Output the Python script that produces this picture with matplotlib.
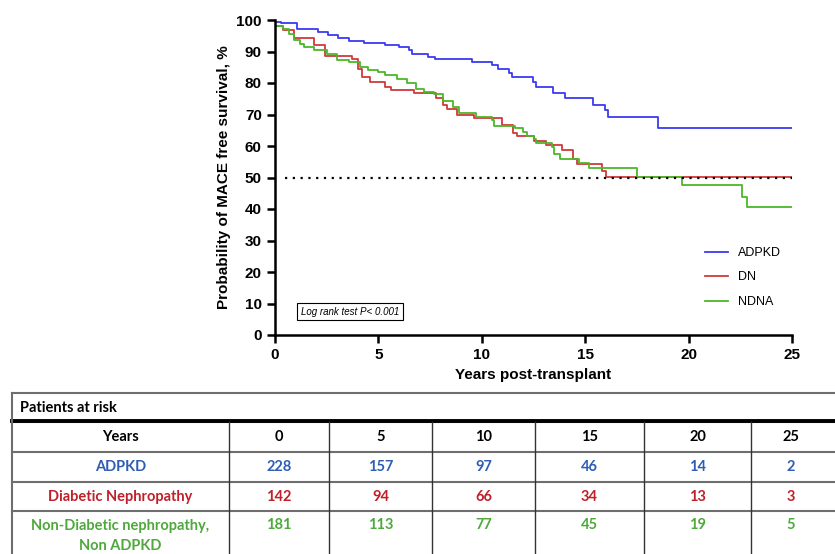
import matplotlib
matplotlib.use("Agg")
import matplotlib.pyplot as plt
from matplotlib.lines import Line2D

plt.rcParams['font.family'] = ['Liberation Sans', 'DejaVu Sans']

adpkd_t = [0, 0.3, 1.08, 2.08, 2.57, 3.07, 3.57, 4.32, 5.3, 5.98, 6.48, 6.64, 7.39, 7.72, 9.55, 10.47, 10.8, 11.3, 11.46, 12.46, 12.6, 13.45, 14.04, 15.37, 15.95, 16.1, 18.5, 25]
adpkd_s = [99.3, 98.9, 97.3, 96.3, 95.2, 94.2, 93.4, 92.6, 92.0, 91.3, 90.5, 89.2, 88.3, 87.5, 86.8, 85.7, 84.3, 83.1, 81.8, 80.4, 78.8, 76.7, 75.1, 73.0, 71.4, 69.3, 65.8, 65.8]

dn_t = [0, 0.4, 0.9, 1.9, 2.4, 3.7, 4.0, 4.2, 4.6, 5.3, 5.6, 6.7, 7.8, 8.1, 8.3, 8.8, 9.6, 11.0, 11.5, 11.7, 12.5, 13.1, 13.9, 14.4, 14.6, 15.8, 16.0, 25]
dn_s = [98.0, 96.8, 94.2, 92.0, 88.5, 87.5, 84.6, 82.0, 80.4, 78.6, 77.8, 76.7, 75.1, 73.0, 71.6, 69.8, 68.8, 66.6, 64.2, 63.1, 61.6, 60.2, 58.6, 55.9, 54.3, 52.0, 50.2, 50.2]

ndna_t = [0, 0.4, 0.66, 0.9, 1.2, 1.4, 1.9, 2.5, 3.0, 3.6, 4.1, 4.5, 5.0, 5.3, 5.9, 6.4, 6.8, 7.2, 7.7, 8.1, 8.6, 8.9, 9.7, 10.5, 10.6, 11.6, 12.0, 12.2, 12.5, 12.6, 13.4, 13.5, 13.8, 14.7, 15.2, 17.5, 19.7, 22.6, 22.8, 25]
ndna_s = [98.0, 97.2, 95.6, 93.5, 92.4, 91.3, 90.5, 89.2, 87.3, 86.6, 85.0, 84.1, 83.4, 82.5, 81.3, 79.9, 78.1, 77.3, 76.5, 74.4, 72.3, 70.4, 69.3, 68.3, 66.5, 65.7, 64.4, 63.3, 62.2, 60.8, 59.8, 57.5, 55.9, 54.5, 53.0, 50.2, 47.6, 43.9, 40.7, 40.7]

series_names = ["ADPKD", "DN", "NDNA"]
line_colors = ["#3a3af0", "#d03a3a", "#4cb82a"]

years = ["0", "5", "10", "15", "20", "25"]
row_labels = ["ADPKD", "Diabetic Nephropathy", "Non-Diabetic nephropathy,\nNon ADPKD"]
at_risk = [[228, 157, 97, 46, 14, 2],
           [142, 94, 66, 34, 13, 3],
           [181, 113, 77, 45, 19, 5]]
table_colors = ["#2e5db3", "#c0202a", "#4ea83c"]

fig = plt.figure(figsize=(8.35, 5.54), dpi=100)
ax = fig.add_axes([275/835, 1-335/554, (792-275)/835, (335-20)/554])
for t, s, c, n in zip([adpkd_t, dn_t, ndna_t], [adpkd_s, dn_s, ndna_s], line_colors, series_names):
    ax.step(t, s, where='post', color=c, lw=1.3, label=n)
ax.axhline(50, xmin=0.02, color='black', ls=(0, (1, 2.5)), lw=1.6)
ax.set_xlim(0, 25)
ax.set_ylim(0, 100)
ax.set_xticks([0, 5, 10, 15, 20, 25])
ax.set_yticks(range(0, 101, 10))
ax.tick_params(labelsize=11, width=1.8, length=6)
for lab in ax.get_xticklabels() + ax.get_yticklabels():
    lab.set_fontweight('bold')
for sp in ['top', 'right']:
    ax.spines[sp].set_visible(False)
for sp in ['left', 'bottom']:
    ax.spines[sp].set_linewidth(1.8)
ax.set_xlabel("Years post-transplant", fontsize=11, fontweight='bold')
ax.set_ylabel("Probability of MACE free survival, %", fontsize=11, fontweight='bold')
ax.legend(loc='lower right', bbox_to_anchor=(1.0, 0.05), frameon=False, fontsize=9,
          handlelength=1.8, labelspacing=1.0)
ax.text(0.05, 0.065, "Log rank test P< 0.001", transform=ax.transAxes, fontsize=7, style='italic',
        bbox=dict(boxstyle='square,pad=0.4', fc='white', ec='black', lw=0.8))

# table
W, H = 835, 554
def fx(x): return x / W
def fy(y): return 1 - y / H
grey = "#6e6e6e"
rows_y = [393, 422, 452, 482, 511, 554]
cols_x = [12, 229, 329, 432, 535, 644, 751, 835]
for y in rows_y[:-1]:
    fig.add_artist(Line2D([fx(12), fx(835)], [fy(y), fy(y)], color=grey, lw=1.5))
fig.add_artist(Line2D([fx(12), fx(835)], [fy(421), fy(421)], color='black', lw=2.8))
fig.add_artist(Line2D([fx(12), fx(12)], [fy(393), fy(554)], color=grey, lw=1.5))
for x in cols_x[1:-1]:
    fig.add_artist(Line2D([fx(x), fx(x)], [fy(422), fy(554)], color='#333333', lw=1.0))
fam = ['Lato', 'DejaVu Sans']
fs = 10.5
fig.text(fx(20), fy(408), "Patients at risk", fontsize=fs, fontweight='bold', va='center', family=fam)
centers = [(cols_x[i] + cols_x[i+1]) / 2 for i in range(len(cols_x)-1)]
centers[-1] = 791
fig.text(fx(centers[0]), fy(437), "Years", fontsize=fs, fontweight='bold', ha='center', va='center', family=fam)
for i, yl in enumerate(years):
    fig.text(fx(centers[i+1]), fy(437), yl, fontsize=fs, fontweight='bold', ha='center', va='center', family=fam)
row_cy = [467, 497, 525]
for r in range(3):
    if r < 2:
        fig.text(fx(centers[0]), fy(row_cy[r]), row_labels[r], fontsize=fs, fontweight='bold', color=table_colors[r],
                 ha='center', va='center', family=fam)
    else:
        fig.text(fx(centers[0]), fy(536), row_labels[r], fontsize=fs, fontweight='bold', color=table_colors[r],
                 ha='center', va='center', linespacing=1.6, family=fam)
    for i, v in enumerate(at_risk[r]):
        fig.text(fx(centers[i+1]), fy(row_cy[r]), str(v), fontsize=fs, fontweight='bold', color=table_colors[r],
                 ha='center', va='center', family=fam)

fig.savefig("out.png", dpi=100)
